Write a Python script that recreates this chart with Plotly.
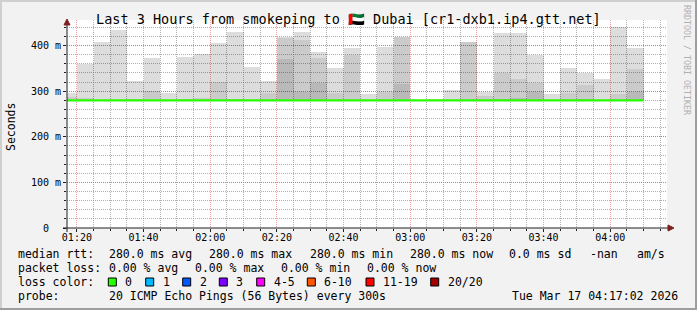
import plotly.graph_objects as go
import pandas as pd

# ---------------- data ----------------
step_start = pd.date_range("2026-03-17 01:15:00", periods=35, freq="5min")
t_start, t_end = "2026-03-17 01:17:02", "2026-03-17 04:17:02"

# smoke layers (ms): outer (light), middle, inner (dark) tops; base = min rtt
smoke_outer = [296, 359, 409, 435, 323, 372, 295, 374, 381, 405, 429, 354, 323, 418, 429, 385, 350, 394,
               293, 396, 418, None, 284, 302, 409, 299, 427, 427, 380, 293, 350, 341, 326, 440, 394]
smoke_mid = [None, None, None, None, None, None, None, None, None, 321, None, None, None, 416, 413, 372, None, 380,
             None, None, 418, None, None, None, 409, None, 339, 326, 319, None, 295, 313, None, 293, 348]
smoke_inner = [287, 285, None, None, 284, 300, None, 283, 285, None, 284, None, 296, 370, 299, 319, 295, None,
               None, 299, 315, None, None, None, None, 289, 283, 285, 299, None, None, 283, None, None, 299]
rtt_min = [280] * 35
median_rtt = [280] * 35

y_tick_vals = [0, 100, 200, 300, 400]
y_tick_text = ["0\u00a0\u00a0", "100 m", "200 m", "300 m", "400 m"]

loss_labels = ["0", "1", "2", "3", "4-5", "6-10", "11-19", "20/20"]
loss_colors = ["#26ff00", "#00b8ff", "#0059ff", "#7e00ff", "#ff00ff", "#ff5500", "#ff0000", "#a00000"]

title = "Last 3 Hours from smokeping to \U0001F1E6\U0001F1EA Dubai [cr1-dxb1.ip4.gtt.net]"
row_rtt = [("median rtt:", 16), ("280.0 ms avg", 107), ("280.0 ms max", 207), ("280.0 ms min", 307.5),
           ("280.0 ms now", 407.5), ("0.0 ms sd", 507), ("-nan", 588), ("am/s", 635)]
row_loss = [("packet loss:", 16), ("0.00 % avg", 107), ("0.00 % max", 193), ("0.00 % min", 279),
            ("0.00 % now", 365)]
loss_box_x = [108.3, 145.7, 182.7, 219.3, 256.7, 307.3, 366, 430.7]
probe_text = "20 ICMP Echo Pings (56 Bytes) every 300s"
stamp = "Tue Mar 17 04:17:02 2026"

# ---------------- geometry ----------------
W, H = 697, 310
L, R, T, B = 67, 30, 20, 82
PW, PH = W - L - R, H - T - B
def px(x): return (x - L) / PW
def py(y): return (T + PH - y) / PH

FONT = "DejaVu Sans Mono"
step = pd.Timedelta("5min")
centers = [s + step / 2 for s in step_start]
width_ms = step.total_seconds() * 1000

fig = go.Figure()
def heights(tops):
    return [None if v is None else v - b for v, b in zip(tops, rtt_min)]

for tops, alpha in [(smoke_outer, 0.135), (smoke_mid, 0.08), (smoke_inner, 0.085)]:
    fig.add_trace(go.Bar(x=centers, y=heights(tops), base=rtt_min, width=width_ms,
                         marker=dict(color=f"rgba(0,0,0,{alpha})", line=dict(width=0)),
                         hoverinfo="skip", showlegend=False))

line_x = list(step_start) + [step_start[-1] + step]
line_y = median_rtt + [median_rtt[-1]]
fig.add_trace(go.Scatter(x=line_x, y=line_y, mode="lines", line=dict(color=loss_colors[0], width=2.2, shape="hv"),
                         hoverinfo="skip", showlegend=False))

grid_minor = "rgba(143,143,143,0.7)"
grid_major = "rgba(222,79,79,0.55)"

fig.update_layout(
    width=W, height=H, margin=dict(l=L, r=R, t=T, b=B, pad=0),
    paper_bgcolor="#f2f2f2", plot_bgcolor="#ffffff",
    barmode="overlay", bargap=0,
    font=dict(family=FONT, size=10, color="#000000"),
    xaxis=dict(type="date", range=[t_start, t_end], showline=False, zeroline=False,
               tick0="2026-03-17 01:20:00", dtick=20 * 60 * 1000, tickformat="%H:%M",
               showgrid=True, gridcolor=grid_major, griddash="1px,1px", gridwidth=1,
               ticks="outside", ticklen=3, tickcolor="#1f1f1f", tickfont=dict(size=10, family=FONT),
               ticklabelstandoff=-3,
               minor=dict(dtick=5 * 60 * 1000, showgrid=True, gridcolor=grid_minor, griddash="1px,1px",
                          ticks="outside", ticklen=2, tickcolor="#1f1f1f")),
    yaxis=dict(range=[0, PH / 0.456], showline=False, zeroline=False,
               tickvals=y_tick_vals, ticktext=y_tick_text,
               showgrid=True, gridcolor=grid_major, griddash="1px,1px", gridwidth=1,
               ticks="outside", ticklen=3, tickcolor="#1f1f1f", tickfont=dict(size=10, family=FONT),
               minor=dict(dtick=20, showgrid=True, gridcolor=grid_minor, griddash="1px,1px",
                          ticks="outside", ticklen=2, tickcolor="#1f1f1f")),
)

shapes = []
def rect(x0, y0, x1, y1, color, line=None):
    shapes.append(dict(type="rect", xref="paper", yref="paper", x0=px(x0), x1=px(x1), y0=py(y0), y1=py(y1),
                       fillcolor=color, line=dict(width=0) if line is None else line, layer="above"))
# frame shading
rect(0, 0, W, 2, "#cfcfcf"); rect(0, 0, 2, H, "#cfcfcf")
rect(W - 2, 0, W, H, "#9e9e9e"); rect(0, H - 2, W, H, "#9e9e9e")
# axes
shapes.append(dict(type="line", xref="paper", yref="paper", x0=px(63), x1=px(670), y0=0, y1=0,
                   line=dict(color="#1f1f1f", width=1), layer="above"))
shapes.append(dict(type="line", xref="paper", yref="paper", x0=0, x1=0, y0=py(232), y1=py(24),
                   line=dict(color="#1f1f1f", width=1), layer="above"))
def tri(pts, color):
    path = "M " + " L ".join(f"{px(a)},{py(b)}" for a, b in pts) + " Z"
    shapes.append(dict(type="path", xref="paper", yref="paper", path=path, fillcolor=color,
                       line=dict(color=color, width=1), layer="above"))
tri([(674, T + PH), (668, T + PH - 3), (668, T + PH + 3)], "#801f1f")
tri([(L, 19), (L - 3, 25), (L + 3, 25)], "#801f1f")
# loss colour boxes
for bx, col in zip(loss_box_x, loss_colors):
    rect(bx, 278, bx + 8, 286, col, line=dict(color="#000000", width=1))
fig.update_layout(shapes=shapes)

ann = []
def text(s, x, y, size=11.5, anchor="left", **kw):
    ann.append(dict(text=s.replace(" ", "\u00a0"), x=px(x), y=py(y), xref="paper", yref="paper",
                    xanchor=anchor, yanchor="middle", showarrow=False,
                    font=dict(family=FONT, size=size, color=kw.pop("color", "#000000")), **kw))
text(title, W / 2, 19, size=13.5, anchor="center")
for s, x in row_rtt:
    text(s, x, 254)
for s, x in row_loss:
    text(s, x, 268)
text("loss color:", 16, 282)
for bx, lab in zip(loss_box_x, loss_labels):
    text(lab, bx + 15, 282)
text("probe:", 16, 296)
text(probe_text, 107, 296)
text(stamp, 680, 296, anchor="right")
text("Seconds", 11, 127, size=11.5, anchor="center", textangle=-90)
text("RRDTOOL / TOBI OETIKER", 687, 60, size=8.3, anchor="center", textangle=90, color="#b0b0b0")
fig.update_layout(annotations=ann)

fig.write_html("out.html")
